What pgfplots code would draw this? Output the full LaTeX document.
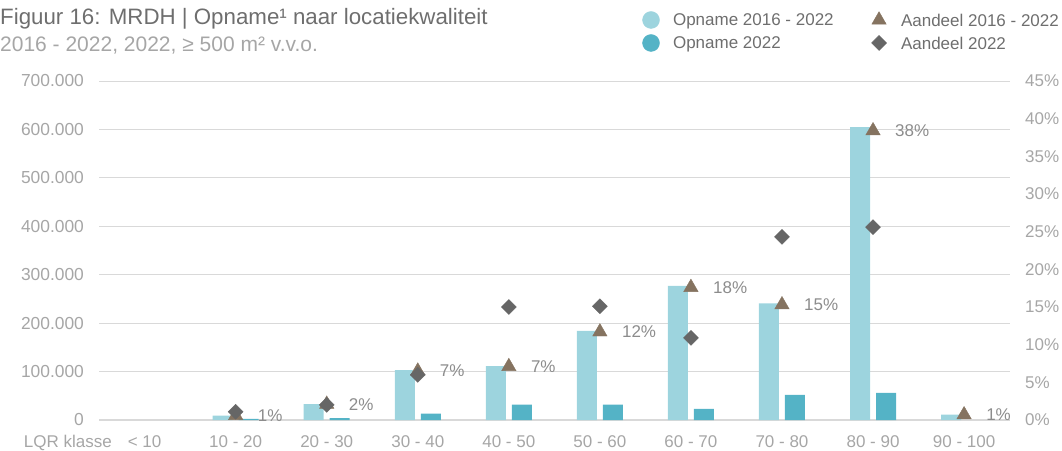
\documentclass[border=0pt]{standalone}
\usepackage{pgfplots}
\pgfplotsset{compat=1.18}
\usepackage{fontspec}
\setmainfont{Liberation Sans}
\definecolor{lightbar}{HTML}{9DD4DE}
\definecolor{darkbar}{HTML}{54B3C6}
\definecolor{tri}{HTML}{857360}
\definecolor{dia}{HTML}{666666}
\definecolor{gridgray}{HTML}{D9D9D9}
\definecolor{tickgray}{HTML}{A6A6A6}
\definecolor{labelgray}{HTML}{8C8C8C}
\definecolor{titlegray}{HTML}{6E6E6E}
\definecolor{subgray}{HTML}{A6A6A6}
\newcommand{\fs}[1]{\fontsize{#1bp}{#1bp}\selectfont}
\begin{document}
\begin{tikzpicture}
\path[use as bounding box] (0bp,0bp) rectangle (1062bp,451bp);
\node[anchor=base west, inner sep=0pt, text=titlegray, font=\fs{22.3}] at (0bp,426bp) {Figuur 16: MRDH | Opname¹ naar locatiekwaliteit};
\node[anchor=base west, inner sep=0pt, text=subgray, font=\fs{21}] at (0bp,399bp) {2016 - 2022, 2022, ≥ 500 m² v.v.o.};
\node[anchor=base west, inner sep=0pt, text=tickgray, font=\fs{17}] at (23.7bp,3.7bp) {LQR klasse};
% bars axis
\begin{axis}[
  at={(99.1bp,31bp)}, anchor=south west, scale only axis,
  width=910.5bp, height=339bp,
  xmin=-0.5, xmax=9.5, ymin=0, ymax=700000,
  scaled y ticks=false,
  axis line style={draw=none}, tick style={draw=none}, major tick length=0pt,
  clip=false,
  ytick={0,100000,200000,300000,400000,500000,600000,700000},
  yticklabels={0,100.000,200.000,300.000,400.000,500.000,600.000,700.000},
  ymajorgrids, grid style={color=gridgray, line width=0.9bp},
  extra y ticks={0}, extra y tick labels={},
  extra y tick style={grid style={color=gridgray, line width=1.8bp}},
  yticklabel style={font=\fs{17.4}, text=tickgray, inner sep=0pt, anchor=east, xshift=-15bp},
  xtick={0,1,2,3,4,5,6,7,8,9},
  xticklabels={< 10,10 - 20,20 - 30,30 - 40,40 - 50,50 - 60,60 - 70,70 - 80,80 - 90,90 - 100},
  xticklabel style={font=\fs{17}, text=tickgray, inner sep=0pt, anchor=north, yshift=-15bp},
]
\addplot[ybar, bar width=20bp, bar shift=-13bp, fill=lightbar, draw=none] coordinates {
 (1,9000) (2,33000) (3,103000) (4,111000) (5,184000) (6,277000) (7,241000) (8,605000) (9,11000)};
\addplot[ybar, bar width=20bp, bar shift=13bp, fill=darkbar, draw=none] coordinates {
 (1,2500) (2,4000) (3,13000) (4,32000) (5,32000) (6,23000) (7,52000) (8,56000)};
\end{axis}
% share axis
\begin{axis}[
  at={(99.1bp,31bp)}, anchor=south west, scale only axis,
  width=910.5bp, height=339bp,
  xmin=-0.5, xmax=9.5, ymin=0, ymax=45,
  axis line style={draw=none}, tick style={draw=none}, major tick length=0pt,
  clip=false, xtick=\empty,
  ytick={0,5,10,15,20,25,30,35,40,45},
  yticklabels={0\%,5\%,10\%,15\%,20\%,25\%,30\%,35\%,40\%,45\%},
  yticklabel pos=right,
  yticklabel style={font=\fs{17}, text=tickgray, inner sep=0pt, anchor=west, xshift=15.4bp},
  legend columns=2,
  legend cell align=left,
  legend image code/.code={\path[draw=none, fill=none] (-9bp,-11.5bp) rectangle (22bp,11.5bp); \draw[#1] plot coordinates {(0bp,0bp)};},
  legend style={at={(0.5963,1.2139)}, anchor=north west, draw=none, fill=none,
    inner sep=0pt, outer sep=0pt, row sep=0pt, column sep=0pt,
    font=\fs{17}, text=titlegray, nodes={inner sep=0pt, text depth=0pt}},
]
\addlegendimage{only marks, mark=*, mark size=8.5bp, color=lightbar}
\addlegendentry{\makebox[197bp][l]{Opname 2016 - 2022}}
\addlegendimage{only marks, mark=triangle*, mark size=8.3bp, color=tri}
\addlegendentry{Aandeel 2016 - 2022}
\addlegendimage{only marks, mark=*, mark size=8.5bp, color=darkbar}
\addlegendentry{\makebox[197bp][l]{Opname 2022}}
\addlegendimage{only marks, mark=square*, mark size=5.3bp, mark options={rotate=45}, color=dia}
\addlegendentry{Aandeel 2022}
\addplot[forget plot, only marks, mark=triangle*, mark size=8.3bp, color=tri,
  nodes near coords, point meta=explicit symbolic,
  every node near coord/.append style={anchor=west, xshift=22bp, inner sep=0pt, font=\fs{17}, text=labelgray}]
  table[x=x, y=y, meta=l] {
x y l
1 0.6 1\%
2 2.1 2\%
3 6.5 7\%
4 7.1 7\%
5 11.7 12\%
6 17.6 18\%
7 15.3 15\%
8 38.4 38\%
9 0.7 1\%
};
\addplot[forget plot, only marks, mark=square*, mark size=5.3bp, mark options={rotate=45}, color=dia] coordinates {
 (1,1.1) (2,2.0) (3,6.0) (4,15.0) (5,15.1) (6,10.9) (7,24.3) (8,25.6)};
\end{axis}
\end{tikzpicture}
\end{document}
